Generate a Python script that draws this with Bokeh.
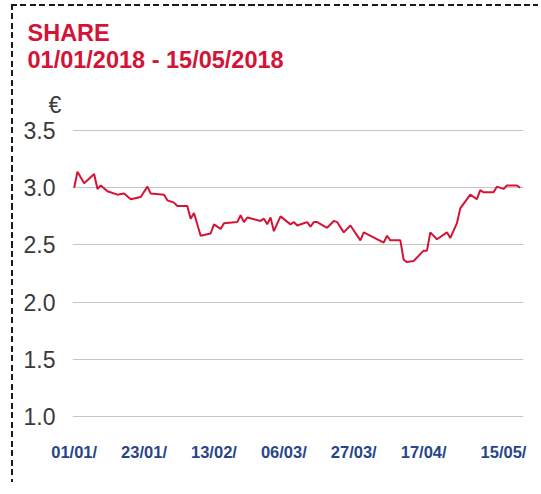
import pandas as pd
from bokeh.plotting import figure
from bokeh.models import FixedTicker, Title, PrintfTickFormatter, ColumnDataSource, Range1d
from bokeh.embed import file_html
from bokeh.resources import INLINE

# ---- data ----
dates = ["2018-01-01", "2018-01-02", "2018-01-04", "2018-01-07", "2018-01-08", "2018-01-09",
         "2018-01-11", "2018-01-14", "2018-01-16", "2018-01-18", "2018-01-21", "2018-01-23",
         "2018-01-24", "2018-01-28", "2018-01-29", "2018-01-31", "2018-02-01", "2018-02-04",
         "2018-02-05", "2018-02-06", "2018-02-08", "2018-02-11", "2018-02-12", "2018-02-14",
         "2018-02-15", "2018-02-19", "2018-02-20", "2018-02-21", "2018-02-22", "2018-02-26",
         "2018-02-27", "2018-02-28", "2018-03-01", "2018-03-02", "2018-03-04", "2018-03-07",
         "2018-03-08", "2018-03-09", "2018-03-11", "2018-03-12", "2018-03-13", "2018-03-14",
         "2018-03-15", "2018-03-18", "2018-03-20", "2018-03-21", "2018-03-23", "2018-03-25",
         "2018-03-28", "2018-03-29", "2018-04-04", "2018-04-05", "2018-04-06", "2018-04-09",
         "2018-04-10", "2018-04-11", "2018-04-13", "2018-04-16", "2018-04-17", "2018-04-18",
         "2018-04-20", "2018-04-23", "2018-04-24", "2018-04-26", "2018-04-27", "2018-04-30",
         "2018-05-02", "2018-05-03", "2018-05-04", "2018-05-07", "2018-05-08", "2018-05-10",
         "2018-05-11", "2018-05-14", "2018-05-15"]
prices = [3.00, 3.14, 3.04, 3.12, 2.99, 3.02, 2.97, 2.94, 2.95, 2.90,
          2.92, 3.01, 2.95, 2.94, 2.89, 2.87, 2.84, 2.84, 2.73, 2.78,
          2.58, 2.60, 2.68, 2.64, 2.69, 2.70, 2.76, 2.70, 2.74, 2.71,
          2.73, 2.68, 2.74, 2.62, 2.75, 2.68, 2.70, 2.67, 2.69, 2.70,
          2.66, 2.70, 2.70, 2.65, 2.71, 2.70, 2.61, 2.67, 2.54, 2.61,
          2.52, 2.58, 2.54, 2.54, 2.37, 2.35, 2.36, 2.45, 2.45, 2.61,
          2.55, 2.61, 2.56, 2.69, 2.82, 2.94, 2.90, 2.98, 2.96, 2.96,
          3.01, 2.99, 3.02, 3.02, 3.00]
tick_days = [0, 21, 42, 63, 84, 105, 129]
tick_labels = ["01/01/", "23/01/", "13/02/", "06/03/", "27/03/", "17/04/", "15/05/"]
y_ticks = [1.0, 1.5, 2.0, 2.5, 3.0, 3.5]
title_line1 = "SHARE"
title_line2 = "01/01/2018 - 15/05/2018"
unit_label = "€"

start = pd.Timestamp("2018-01-01")
days = [(pd.Timestamp(d) - start).days for d in dates]
src = ColumnDataSource(dict(x=days, y=prices))

RED = "#d41436"
FONT = "Liberation Sans"

p = figure(width=527, height=478, output_backend="svg", toolbar_location=None, title=None,
           x_range=Range1d(-0.5, 135), y_range=Range1d(0.99, 3.51),
           min_border_left=59, min_border_right=17, min_border_top=123, min_border_bottom=67)
dash_h = "repeating-linear-gradient(to right, #1a1a1a 0px, #1a1a1a 6px, transparent 6px, transparent 9.5px)"
dash_v = "repeating-linear-gradient(to bottom, #1a1a1a 0px, #1a1a1a 6px, transparent 6px, transparent 9.5px)"
p.styles = {"margin-top": "4px", "margin-left": "11px",
            "padding-top": "2px", "padding-left": "2px",
            "overflow": "hidden",
            "background-image": dash_h + ", " + dash_v,
            "background-size": "100% 2px, 2px 100%",
            "background-position": "0 0, 0 0",
            "background-repeat": "no-repeat",
            "background-origin": "border-box"}
p.outline_line_color = None
p.background_fill_color = "white"
p.border_fill_color = "white"

p.line("x", "y", source=src, line_color=RED, line_width=2)

# axes
p.xaxis.ticker = FixedTicker(ticks=tick_days)
p.xaxis.major_label_overrides = {d: l for d, l in zip(tick_days, tick_labels)}
p.xaxis.axis_line_color = None
p.xaxis.major_tick_line_color = None
p.xaxis.minor_tick_line_color = None
p.xaxis.major_label_text_font = FONT
p.xaxis.major_label_text_font_style = "bold"
p.xaxis.major_label_text_font_size = "16.5px"
p.xaxis.major_label_text_color = "#27468a"
p.xaxis.major_label_standoff = 19

p.yaxis.ticker = FixedTicker(ticks=y_ticks)
p.yaxis.formatter = PrintfTickFormatter(format="%.1f")
p.yaxis.axis_line_color = None
p.yaxis.major_tick_line_color = None
p.yaxis.minor_tick_line_color = None
p.yaxis.major_label_text_font = FONT
p.yaxis.major_label_text_font_size = "23px"
p.yaxis.major_label_text_color = "#3a3a3a"
p.yaxis.major_label_standoff = 11

p.xgrid.grid_line_color = None
p.ygrid.ticker = FixedTicker(ticks=y_ticks)
p.ygrid.grid_line_color = "#c6c6c6"
p.ygrid.grid_line_width = 1

# titles, nearest to the frame first
p.add_layout(Title(text=unit_label, align="left", offset=-24, standoff=23,
                   text_font=FONT, text_font_style="normal", text_font_size="23px",
                   text_color="#3a3a3a"), "above")
p.add_layout(Title(text=title_line2, align="left", offset=-45, standoff=11,
                   text_font=FONT, text_font_style="bold", text_font_size="23.5px",
                   text_color=RED), "above")
p.add_layout(Title(text=title_line1, align="left", offset=-45, standoff=-13,
                   text_font=FONT, text_font_style="bold", text_font_size="23.5px",
                   text_color=RED), "above")

open("out.html", "w").write(file_html(p, INLINE))
